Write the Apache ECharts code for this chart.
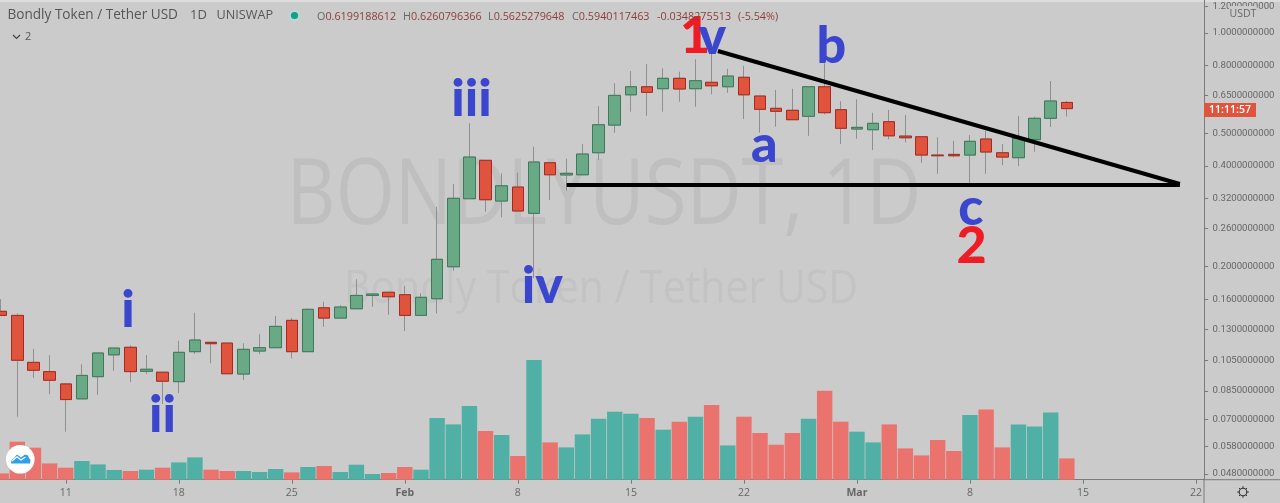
<!DOCTYPE html>
<html><head><meta charset="utf-8">
<style>html,body{margin:0;padding:0;background:#cbcbcb}#c{width:1280px;height:503px}</style>
<script src="https://cdn.jsdelivr.net/npm/echarts@6/dist/echarts.min.js"></script>
</head><body><div id="c"></div>
<script>
const categories=['Jan 7','Jan 8','Jan 9','Jan 10','Jan 11','Jan 12','Jan 13','Jan 14','Jan 15','Jan 16','Jan 17','Jan 18','Jan 19','Jan 20','Jan 21','Jan 22','Jan 23','Jan 24','Jan 25','Jan 26','Jan 27','Jan 28','Jan 29','Jan 30','Jan 31',
'Feb 1','Feb 2','Feb 3','Feb 4','Feb 5','Feb 6','Feb 7','Feb 8','Feb 9','Feb 10','Feb 11','Feb 12','Feb 13','Feb 14','Feb 15','Feb 16','Feb 17','Feb 18','Feb 19','Feb 20','Feb 21','Feb 22','Feb 23','Feb 24','Feb 25','Feb 26','Feb 27','Feb 28',
'Mar 1','Mar 2','Mar 3','Mar 4','Mar 5','Mar 6','Mar 7','Mar 8','Mar 9','Mar 10','Mar 11','Mar 12','Mar 13','Mar 14','Mar 15','Mar 16','Mar 17','Mar 18','Mar 19','Mar 20','Mar 21','Mar 22'];
const opens=[.1471,.1430,.1035,.0971,.0892,.0805,.0938,.1090,.1148,.0973,.0967,.0906,.1114,.1188,.1182,.0955,.1119,.1145,.1382,.1114,.1507,.1404,.1497,.1641,.1677,.1649,.1430,
.1604,.1999,.3194,.4161,.3144,.3461,.2888,.4093,.3762,.3767,.4384,.5304,.6533,.6906,.6814,.7320,.6814,.7121,.6906,.7371,.6479,.5953,.5872,.5636,.6906,.5896,.5162,.5137,.5429,.4917,.4894,.4315,.4335,.4315,.4819,.4384,.4236,.4796,.5557,.6199];
const closes=[.1430,.1050,.0980,.0915,.0801,.0946,.1104,.1142,.0971,.0987,.0909,.1109,.1207,.1177,.0957,.1132,.1145,.1326,.1114,.1491,.1404,.1515,.1641,.1657,.1626,.1430,.1620,
.2104,.3203,.4256,.3172,.3491,.2935,.4113,.3767,.3805,.4344,.5316,.6508,.6906,.6646,.7320,.6800,.7200,.6952,.7434,.6533,.5912,.5831,.5504,.6906,.5777,.5187,.5222,.5368,.4926,.4860,.4315,.4294,.4294,.4743,.4406,.4256,.4842,.5557,.6261,.5940];
const lows=[.1430,.0712,.0930,.0832,.0642,.0805,.0828,.0977,.0904,.0955,.0777,.0838,.1096,.1028,.0957,.0917,.1096,.1145,.1064,.1114,.1322,.1404,.1497,.1518,.1436,.1284,.1430,
.1450,.1946,.3194,.2920,.2809,.2935,.1850,.3166,.3375,.3767,.4170,.5033,.5815,.5655,.5815,.6230,.6018,.6554,.6628,.5531,.5033,.5247,.5504,.4926,.5714,.4654,.4829,.4467,.4809,.4711,.4093,.3794,.4248,.3552,.3794,.4027,.4001,.4415,.5234,.5625];
const highs=[.1598,.1450,.1135,.1086,.0896,.1021,.1104,.1142,.1163,.1088,.0967,.1201,.1457,.1193,.1188,.1180,.1257,.1423,.1404,.1501,.1571,.1535,.1834,.1657,.1677,.1751,.1666,
.3022,.3534,.5368,.4161,.3805,.3821,.4568,.4093,.4208,.4654,.6046,.7071,.7697,.8075,.7841,.7660,.8343,.8834,.7812,.7977,.6479,.6753,.6814,.6906,.8115,.6248,.6334,.5777,.5884,.5686,.4894,.4873,.4763,.4953,.5102,.4654,.5645,.5619,.7185,.6261];
const volumes=[6.3,38,32,16.3,12,18.7,15.3,9.7,8.7,10,12,17.3,22.3,10,8.7,8.7,7.7,10.7,7.3,12.7,13.7,7.7,15,5.7,6.7,12.7,10,
61.7,55.3,73.7,48.7,44.7,23.7,119.7,37.3,32.3,45.3,61,68,66,61.7,50,58,63,74.7,34.3,63,46.7,35,46.7,61,89,58,48,37.3,55.3,31.3,24.3,39.7,28.7,64.7,70.3,32.3,55.3,53.3,67.3,21.3];
const priceTicks=[1.2,1,.8,.65,.5,.4,.32,.26,.2,.16,.13,.105,.085,.07,.058,.048];
const dayTicks={4:'11',11:'18',18:'25',25:'Feb',32:'8',39:'15',46:'22',53:'Mar',60:'8',67:'15',74:'22'};
const resistance=[[44.39,.8834],[73,.3535]];
const support=[[35.02,.351],[73,.351]];
const BLUE='#3b46cf',RED='#ef1c24';
const waveLabels=[['1',42.97,.9762,RED],['v',44.05,.9729,BLUE],['b',51.42,.9144,BLUE],['iii',29.13,.6326,BLUE],['a',47.27,.4624,BLUE],['c',60.06,.2988,BLUE],['2',60.1,.2302,RED],['iv',33.52,.1751,BLUE],['i',7.85,.1484,BLUE],['ii',9.99,.0721,BLUE]];
const quote=[['O','0.6199188612',317],['H','0.6260796366',403],['L','0.5625279648',488],['C','0.5940117463',572],['','-0.0348275513',657],['','(-5.54%)',738]];

const UP='#6aa985',UPB='#3c7a5a',DN='#e0533c',DNB='#a72a20',WICK='#8f8f8f';
const FONT='"Open Sans","Noto Sans",sans-serif';
const ohlc=opens.map((o,i)=>[o,closes[i],lows[i],highs[i]]);
const bodies=opens.map((o,i)=>[o,closes[i],Math.min(o,closes[i]),Math.max(o,closes[i])]);
const isTick=i=>dayTicks[i]!==undefined;

const txt=(x,y,text,size,color,extra)=>({type:'text',x,y,z:100,silent:true,style:Object.assign({text,fontSize:size,fontFamily:FONT,fill:color,verticalAlign:'middle'},extra||{})});
const gfx=[
 {type:'rect',z:-2,silent:true,shape:{x:0,y:0,width:1280,height:2},style:{fill:'#dcdcdc'}},
 {type:'text',x:604,y:198,scaleY:1.2,z:-1,silent:true,style:{text:'BONDLYUSDT, 1D',fontSize:76,fontFamily:FONT,fill:'#bfbfbf',align:'center',verticalAlign:'middle'}},
 {type:'text',x:601,y:290,scaleY:1.1,z:-1,silent:true,style:{text:'Bondly Token / Tether USD',fontSize:41,fontFamily:FONT,fill:'#c3c3c3',align:'center',verticalAlign:'middle'}},
 txt(7.5,15.5,'Bondly Token / Tether USD',13.6,'#565656'),
 txt(190,15.5,'1D',13,'#565656'),
 txt(216.5,15.5,'UNISWAP',12.7,'#565656'),
 {type:'circle',z:100,silent:true,shape:{cx:294.5,cy:15.5,r:6},style:{fill:'#bcd8d2'}},
 {type:'circle',z:101,silent:true,shape:{cx:294.5,cy:15.5,r:3.6},style:{fill:'#12a088'}},
 {type:'polyline',z:100,silent:true,shape:{points:[[13,35],[16.5,38.5],[20,35]]},style:{stroke:'#444',lineWidth:1.2,fill:null}},
 txt(25,36.5,'2',11,'#555'),
 {type:'line',z:100,silent:true,shape:{x1:1204,y1:479.7,x2:1280,y2:479.7},style:{stroke:'#7a7a7a',lineWidth:1}},
 {type:'line',z:100,silent:true,shape:{x1:1204,y1:479.7,x2:1204,y2:503},style:{stroke:'#7a7a7a',lineWidth:1}},
 {type:'rect',z:100,silent:true,shape:{x:1229,y:6,width:28,height:13,r:2},style:{fill:'#cbcbcb'}},
 txt(1243,14,'USDT',10.5,'#666',{align:'center'}),
 {type:'rect',z:100,silent:true,shape:{x:1204,y:103,width:52,height:14},style:{fill:'#e0533c'}},
 txt(1230,110,'11:11:57',10.5,'#fff',{align:'center',fontWeight:600}),
 {type:'circle',z:100,silent:true,shape:{cx:20.3,cy:459.3,r:14.3},style:{fill:'#fff'}},
 {type:'polygon',z:101,silent:true,shape:{points:[[11,463.5],[11.5,460],[14,458],[17,454.5],[21,457.5],[25,454.5],[28,455.5],[29,458],[30.5,460],[30,463.5]]},style:{fill:'#2e9fe8'}},
 {type:'polyline',z:102,silent:true,shape:{points:[[12,461],[17,456.8],[21,460],[25.5,457]]},style:{stroke:'#fff',lineWidth:1.2,fill:null}},
 {type:'circle',z:100,silent:true,shape:{cx:1243,cy:492,r:3.8},style:{fill:'none',stroke:'#333',lineWidth:1.1}}
];
[[0,-1],[.7,-.7],[1,0],[.7,.7],[0,1],[-.7,.7],[-1,0],[-.7,-.7]].forEach(d=>gfx.push({type:'line',z:100,silent:true,shape:{x1:1243+d[0]*3.8,y1:492+d[1]*3.8,x2:1243+d[0]*5.8,y2:492+d[1]*5.8},style:{stroke:'#333',lineWidth:1}}));
quote.forEach(q=>gfx.push({type:'text',x:q[2],y:16.5,z:100,silent:true,style:{text:'{k|'+q[0]+'}{v|'+q[1]+'}',verticalAlign:'middle',rich:{k:{fontSize:10.8,fontFamily:FONT,fill:'#666'},v:{fontSize:10.8,fontFamily:FONT,fill:'#8a3f3c'}}}}));

const chart=echarts.init(document.getElementById('c'),null,{renderer:'canvas'});
chart.setOption({
 animation:false,backgroundColor:'#cbcbcb',
 grid:{left:-6.9,top:0,width:1211,height:479.7,containLabel:false,outerBoundsMode:'none'},
 xAxis:[
  {type:'category',data:categories,boundaryGap:true,
   axisLine:{show:true,lineStyle:{color:'#7a7a7a',width:1}},
   axisTick:{show:true,alignWithLabel:true,length:4,interval:isTick,lineStyle:{color:'#7a7a7a'}},
   axisLabel:{interval:isTick,margin:8,hideOverlap:false,color:'#666',fontSize:10.5,fontFamily:FONT,
    formatter:(v,i)=>{const t=dayTicks[i];return t==='Feb'||t==='Mar'?'{b|'+t+'}':t;},rich:{b:{fontWeight:700,color:'#666',fontSize:10.5,fontFamily:FONT}}},
   splitLine:{show:false}},
  {type:'value',min:-.5,max:74.5,show:false,splitLine:{show:false}}
 ],
 yAxis:[
  {type:'log',logBase:10,min:.04613,max:1.2552,position:'right',
   axisLine:{show:true,onZero:false,lineStyle:{color:'#7a7a7a',width:1}},
   axisTick:{show:true,length:4,customValues:priceTicks,lineStyle:{color:'#7a7a7a'}},
   axisLabel:{customValues:priceTicks,margin:8.5,color:'#666',fontSize:9.6,fontFamily:'Roboto,sans-serif',showMinLabel:true,showMaxLabel:true,hideOverlap:false,formatter:v=>(+v).toFixed(10)},
   minorTick:{show:false},splitLine:{show:false},minorSplitLine:{show:false}},
  {type:'value',min:0,max:479.7,show:false,splitLine:{show:false}}
 ],
 series:[
  {type:'bar',name:'Volume',xAxisIndex:0,yAxisIndex:1,z:1,barWidth:15.4,data:volumes.map((v,i)=>({value:v,itemStyle:{color:closes[i]>=opens[i]?'#50b0a5':'#eb736d'}}))},
  {type:'candlestick',name:'Wicks',xAxisIndex:0,yAxisIndex:0,z:3,barWidth:12,data:ohlc,itemStyle:{color:WICK,color0:WICK,borderColor:WICK,borderColor0:WICK,borderWidth:1}},
  {type:'candlestick',name:'Bodies',xAxisIndex:0,yAxisIndex:0,z:4,barWidth:12,data:bodies,itemStyle:{color:UP,color0:DN,borderColor:UPB,borderColor0:DNB,borderWidth:1}},
  {type:'line',name:'Resistance',xAxisIndex:1,yAxisIndex:0,z:5,symbol:'none',data:resistance,lineStyle:{color:'#000',width:4}},
  {type:'line',name:'Support',xAxisIndex:1,yAxisIndex:0,z:5,symbol:'none',data:support,lineStyle:{color:'#000',width:4}},
  {type:'scatter',name:'Waves',xAxisIndex:1,yAxisIndex:0,z:6,symbolSize:1,itemStyle:{color:'rgba(0,0,0,0)',opacity:1},
   data:waveLabels.map(w=>({name:w[0],value:[w[1],w[2]],label:{color:w[3]}})),
   label:{show:true,position:'inside',opacity:1,formatter:'{b}',fontFamily:'Lato,sans-serif',fontWeight:900,fontSize:52}}
 ],
 graphic:{elements:gfx}
});
</script></body></html>
